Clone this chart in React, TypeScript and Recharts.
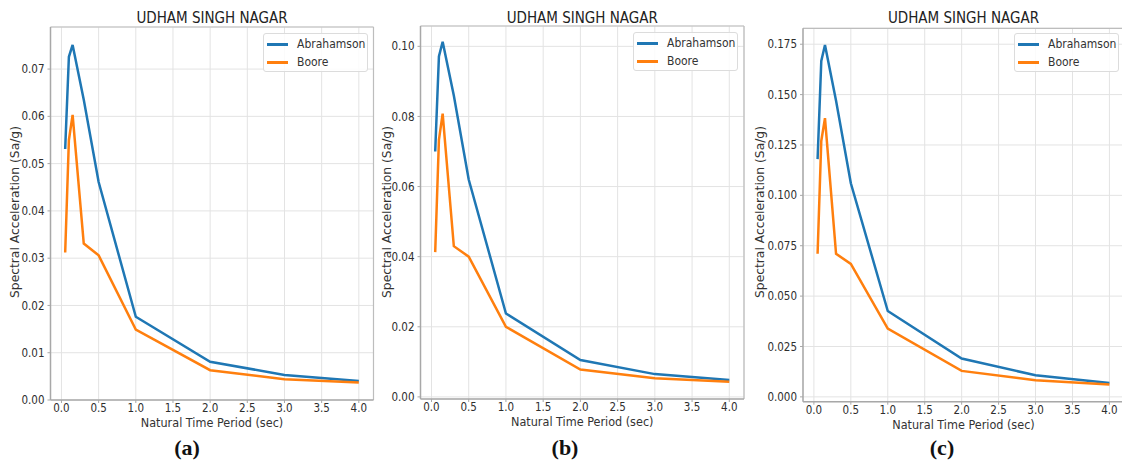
import React from 'react';
import { LineChart, Line, XAxis, YAxis, CartesianGrid, ReferenceLine } from 'recharts';

// periods (sec) shared by every curve
const PERIODS = [0.05, 0.1, 0.15, 0.3, 0.5, 1.0, 2.0, 3.0, 4.0];
const X_TICKS = [0, 0.5, 1.0, 1.5, 2.0, 2.5, 3.0, 3.5, 4.0];

// (a)
const ABR_A = [0.0531, 0.0726, 0.0751, 0.0635, 0.0461, 0.0176, 0.0081, 0.0053, 0.0040];
const BOORE_A = [0.0312, 0.0550, 0.0603, 0.0331, 0.0306, 0.0149, 0.0063, 0.0044, 0.0037];
const Y_TICKS_A = [0, 0.01, 0.02, 0.03, 0.04, 0.05, 0.06, 0.07];

// (b)
const ABR_B = [0.0700, 0.0971, 0.1013, 0.0860, 0.0620, 0.0238, 0.0105, 0.0065, 0.0048];
const BOORE_B = [0.0413, 0.0733, 0.0808, 0.0430, 0.0400, 0.0200, 0.0078, 0.0053, 0.0043];
const Y_TICKS_B = [0, 0.02, 0.04, 0.06, 0.08, 0.10];

// (c)
const ABR_C = [0.118, 0.1667, 0.1746, 0.147, 0.106, 0.0426, 0.0190, 0.0107, 0.0069];
const BOORE_C = [0.071, 0.127, 0.1383, 0.071, 0.066, 0.0339, 0.0129, 0.0083, 0.0061];
const Y_TICKS_C = [0, 0.025, 0.05, 0.075, 0.1, 0.125, 0.15, 0.175];

const BLUE = '#1f77b4';
const ORANGE = '#ff7f0e';
const SANS = '"DejaVu Sans Condensed", "DejaVu Sans", sans-serif';
const X_DOMAIN: [number, number] = [-0.1475, 4.1975];
const H = 465;
const YAXIS_W = 45;
const XAXIS_H = 30;

type Box = { x0: number; x1: number; y0: number; y1: number };

type PanelProps = {
    left: number;
    width: number;
    plot: Box;
    yDomain: [number, number];
    yTicks: number[];
    yDigits: number;
    abr: number[];
    boore: number[];
    legendX: number;
    legendY: number;
    yLabelX: number;
    caption: string;
    captionX: number;
};

function Panel(p: PanelProps) {
    const data = PERIODS.map((t, i) => ({ t, abr: p.abr[i], boore: p.boore[i] }));
    const margin = {
        top: p.plot.y0,
        bottom: H - p.plot.y1 - XAXIS_H,
        left: p.plot.x0 - p.left - YAXIS_W,
        right: p.left + p.width - p.plot.x1,
    };
    const cx = (p.plot.x0 + p.plot.x1) / 2;
    const tick = { fill: '#2e2e2e', fontSize: 11.5, fontFamily: SANS };
    return (
        <>
            <div style={{ position: 'absolute', left: p.left, top: 0, width: p.width, height: H }}>
                <LineChart width={p.width} height={H} data={data} margin={margin}>
                    <CartesianGrid stroke="#e3e3e3" strokeWidth={1} />
                    <XAxis type="number" dataKey="t" domain={X_DOMAIN} ticks={X_TICKS} allowDataOverflow
                        tickFormatter={(v: number) => v.toFixed(1)} height={XAXIS_H}
                        tick={tick} tickSize={3} tickMargin={1}
                        axisLine={{ stroke: '#a8a8a8', strokeWidth: 1.5 }} tickLine={{ stroke: '#a8a8a8' }} />
                    <YAxis type="number" domain={p.yDomain} ticks={p.yTicks} allowDataOverflow
                        tickFormatter={(v: number) => v.toFixed(p.yDigits)} width={YAXIS_W}
                        tick={tick} tickSize={3} tickMargin={3}
                        axisLine={{ stroke: '#a8a8a8', strokeWidth: 1.5 }} tickLine={{ stroke: '#a8a8a8' }} />
                    <ReferenceLine y={p.yDomain[1]} stroke="#bdbdbd" strokeWidth={1.2} />
                    <ReferenceLine x={X_DOMAIN[1]} stroke="#bdbdbd" strokeWidth={1.2} />
                    <Line type="linear" dataKey="abr" stroke={BLUE} strokeWidth={2.5} dot={false} isAnimationActive={false} />
                    <Line type="linear" dataKey="boore" stroke={ORANGE} strokeWidth={2.5} dot={false} isAnimationActive={false} />
                </LineChart>
            </div>
            <div style={{ position: 'absolute', left: cx, top: 18, transform: 'translate(-50%, -50%)', whiteSpace: 'nowrap', fontFamily: SANS, fontSize: 15, color: '#222' }}>
                UDHAM SINGH NAGAR
            </div>
            <div style={{ position: 'absolute', left: p.yLabelX, top: 212, transform: 'translate(-50%, -50%) rotate(-90deg)', whiteSpace: 'nowrap', fontFamily: '"DejaVu Sans", sans-serif', fontSize: 12.3, color: '#333' }}>
                Spectral Acceleration (Sa/g)
            </div>
            <div style={{ position: 'absolute', left: cx, top: p.plot.y1 + 22, transform: 'translate(-50%, -50%)', whiteSpace: 'nowrap', fontFamily: SANS, fontSize: 12.5, color: '#333' }}>
                Natural Time Period (sec)
            </div>
            <div style={{ position: 'absolute', left: p.captionX, top: 448, transform: 'translate(-50%, -50%)', whiteSpace: 'nowrap', fontFamily: '"Liberation Serif", serif', fontWeight: 700, fontSize: 22, color: '#111' }}>
                {p.caption}
            </div>
            <div style={{ position: 'absolute', left: p.legendX, top: p.legendY, width: 105, height: 39, boxSizing: 'border-box', border: '1px solid #dcdcdc', borderRadius: 3, background: 'rgba(255,255,255,0.85)', fontFamily: SANS, fontSize: 12, color: '#333' }}>
                {[{ name: 'Abrahamson', color: BLUE, y: 10 }, { name: 'Boore', color: ORANGE, y: 28 }].map((e) => (
                    <React.Fragment key={e.name}>
                        <div style={{ position: 'absolute', left: 3, top: e.y - 1, width: 21, height: 2.5, background: e.color }} />
                        <div style={{ position: 'absolute', left: 33, top: e.y, transform: 'translateY(-50%)', whiteSpace: 'nowrap' }}>{e.name}</div>
                    </React.Fragment>
                ))}
            </div>
        </>
    );
}

export default function App() {
    return (
        <div style={{ position: 'absolute', left: 0, top: 0, width: 1122, height: H, overflow: 'hidden', background: '#fff' }}>
            <Panel left={0} width={380} plot={{ x0: 50.5, x1: 373.5, y0: 27, y1: 400 }}
                yDomain={[0, 0.0789]} yTicks={Y_TICKS_A} yDigits={2} abr={ABR_A} boore={BOORE_A}
                legendX={263} legendY={33} yLabelX={15} caption="(a)" captionX={187} />
            <Panel left={370} width={378} plot={{ x0: 420.5, x1: 744, y0: 26, y1: 399 }}
                yDomain={[-0.0006, 0.1058]} yTicks={Y_TICKS_B} yDigits={2} abr={ABR_B} boore={BOORE_B}
                legendX={633} legendY={32} yLabelX={387} caption="(b)" captionX={565} />
            <Panel left={745} width={382} plot={{ x0: 803, x1: 1124, y0: 28.3, y1: 401.7 }}
                yDomain={[-0.0024, 0.1829]} yTicks={Y_TICKS_C} yDigits={3} abr={ABR_C} boore={BOORE_C}
                legendX={1014} legendY={33} yLabelX={760} caption="(c)" captionX={942} />
        </div>
    );
}
